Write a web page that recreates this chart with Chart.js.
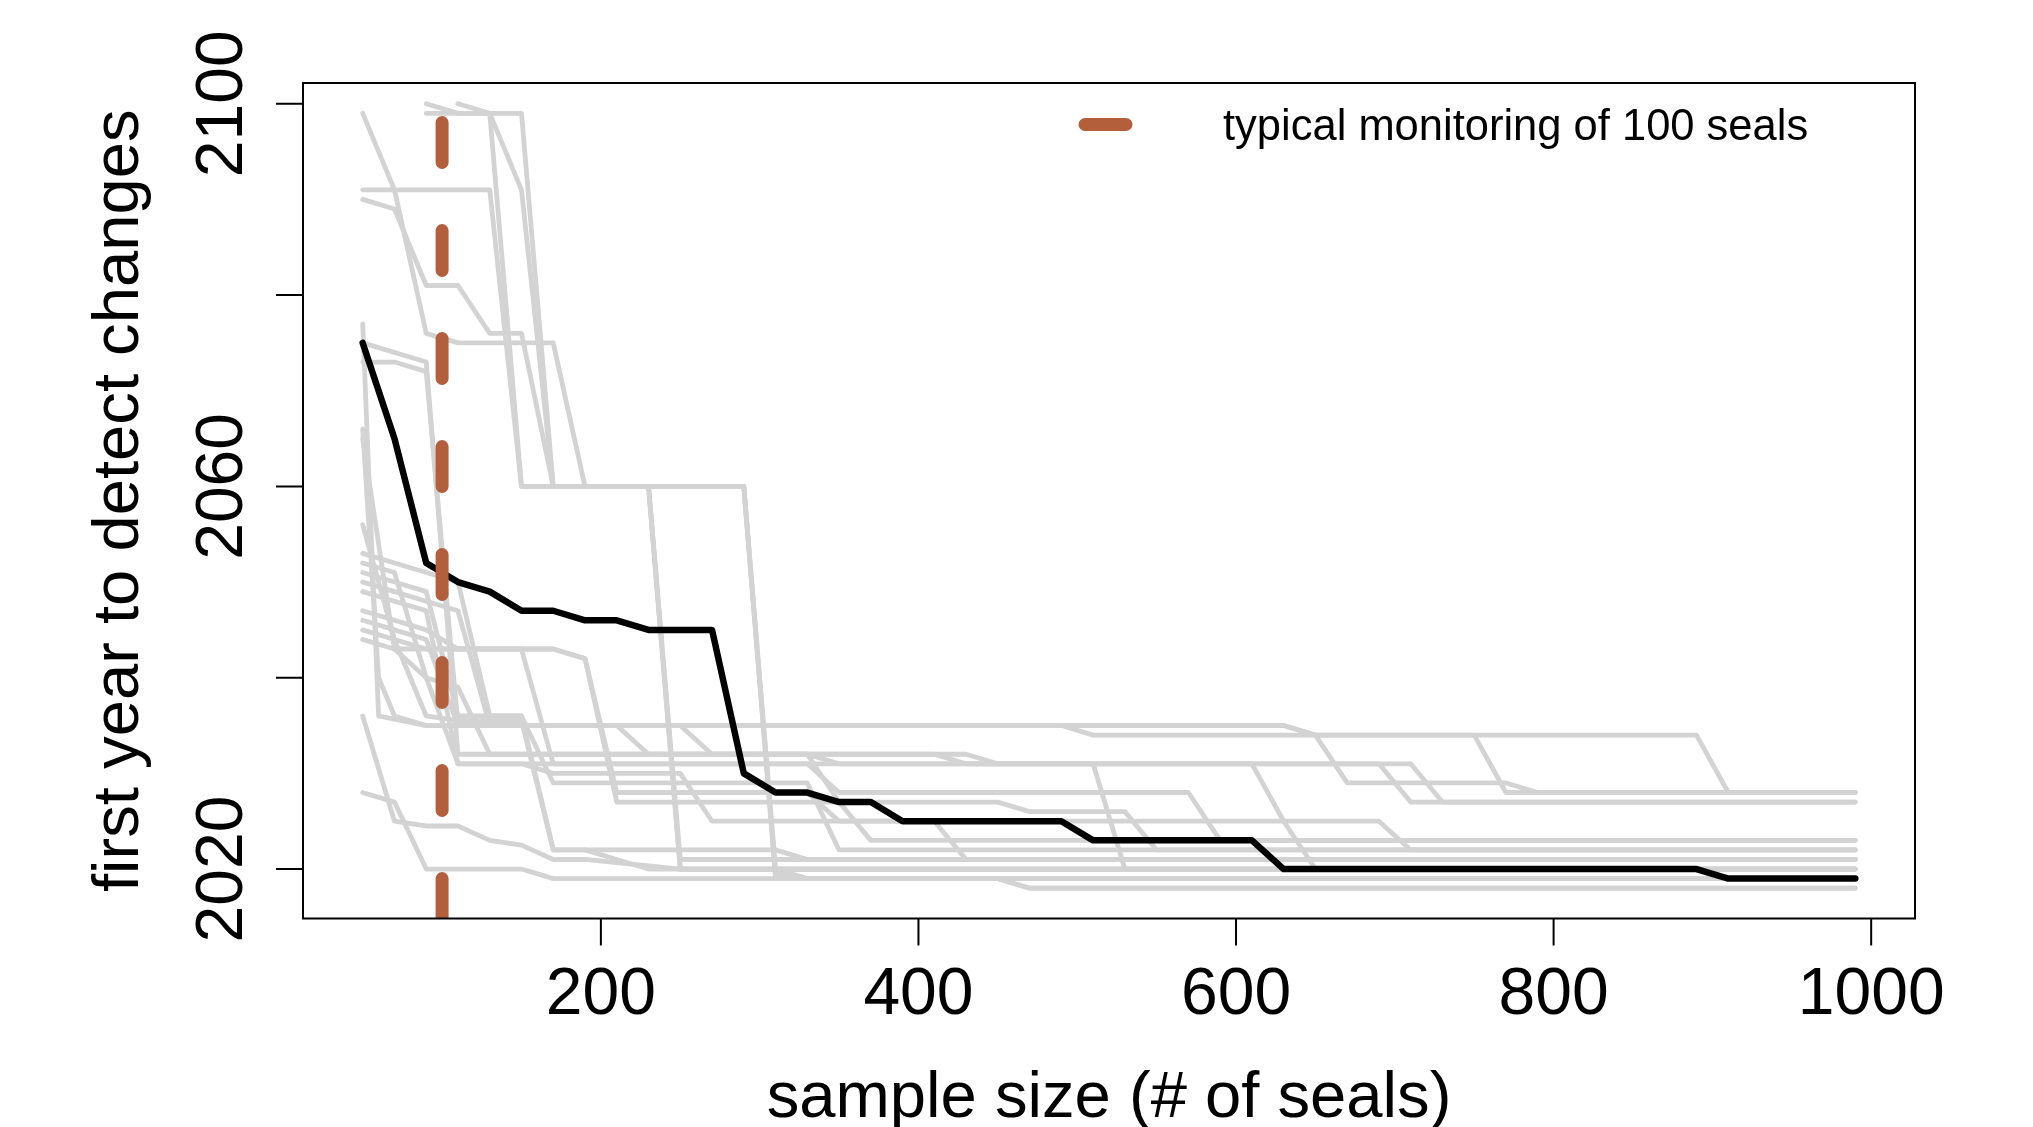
<!DOCTYPE html>
<html>
<head>
<meta charset="utf-8">
<script src="https://cdn.jsdelivr.net/npm/chart.js@4.4.1/dist/chart.umd.min.js"></script>
<style>
  body { margin: 0; background: #ffffff; }
  canvas { display: block; }
</style>
</head>
<body>
<canvas id="grafico" width="2033" height="1127"></canvas>
<script>
// black summary line
const sampleSizes = [50, 70, 90, 110, 130, 150, 170, 190, 210, 230, 250, 270, 290, 310, 330, 350,
  370, 390, 410, 430, 450, 470, 490, 510, 530, 550, 570, 590, 610, 630, 650, 670,
  690, 710, 730, 750, 770, 790, 810, 830, 850, 870, 890, 910, 930, 950, 970, 990]
const firstYear = [2075, 2065, 2052, 2050, 2049, 2047, 2047, 2046, 2046, 2045, 2045, 2045, 2030, 2028, 2028, 2027,
  2027, 2025, 2025, 2025, 2025, 2025, 2025, 2023, 2023, 2023, 2023, 2023, 2023, 2020, 2020, 2020,
  2020, 2020, 2020, 2020, 2020, 2020, 2020, 2020, 2020, 2020, 2020, 2019, 2019, 2019, 2019, 2019]

// grey runs, [sample size, year] at each corner
const run01 = [[50, 2099], [70, 2091], [90, 2076], [110, 2075], [170, 2075], [190, 2060], [290, 2060], [310, 2019], [450, 2019], [470, 2018], [990, 2018]]
const run02 = [[50, 2091], [130, 2091], [150, 2060], [230, 2060], [250, 2020], [990, 2020]]
const run03 = [[50, 2090], [70, 2089], [90, 2081], [110, 2081], [130, 2076], [150, 2076], [170, 2060], [290, 2060], [310, 2020], [990, 2020]]
const run04 = [[90, 2100], [110, 2099], [150, 2099], [170, 2060], [230, 2060], [250, 2020], [990, 2020]]
const run05 = [[90, 2099], [130, 2099], [150, 2091], [170, 2060], [290, 2060], [310, 2019.5], [330, 2019], [990, 2019]]
const run06 = [[110, 2100], [130, 2099], [150, 2060], [230, 2060], [250, 2021], [990, 2021]]
const run07 = [[50, 2077], [60, 2036], [90, 2035], [630, 2035], [650, 2034], [670, 2029], [770, 2029], [790, 2028], [990, 2028]]
const run08 = [[50, 2075], [90, 2073], [110, 2032], [330, 2032], [350, 2031], [710, 2031], [730, 2027], [990, 2027]]
const run09 = [[50, 2073], [70, 2073], [90, 2072], [110, 2035], [490, 2035], [510, 2034], [890, 2034], [910, 2028], [990, 2028]]
const run10 = [[50, 2066], [60, 2040], [70, 2036], [90, 2035], [630, 2035], [650, 2034], [750, 2034], [770, 2028], [990, 2028]]
const run11 = [[50, 2065], [70, 2043], [170, 2043], [190, 2042], [210, 2027], [450, 2027], [470, 2026], [530, 2026], [550, 2022], [990, 2022]]
const run12 = [[50, 2056], [70, 2044], [90, 2043], [150, 2043], [170, 2031], [330, 2031], [350, 2028], [570, 2028], [590, 2023], [990, 2023]]
const run13 = [[50, 2053], [70, 2052], [90, 2051], [110, 2050], [130, 2036], [150, 2036], [170, 2022], [310, 2022], [330, 2021], [990, 2021]]
const run14 = [[50, 2052], [70, 2051], [90, 2040], [110, 2039], [130, 2032], [410, 2032], [430, 2031], [690, 2031], [710, 2027], [990, 2027]]
const run15 = [[50, 2051], [70, 2050], [90, 2049], [110, 2036], [150, 2036], [170, 2029], [330, 2029], [350, 2022], [990, 2022]]
const run16 = [[50, 2050], [70, 2049], [90, 2048], [110, 2047], [130, 2035], [210, 2035], [230, 2032], [330, 2032], [350, 2027], [370, 2023], [990, 2023]]
const run17 = [[50, 2049], [70, 2048], [90, 2047], [110, 2031], [150, 2031], [170, 2030], [250, 2030], [270, 2025], [690, 2025], [710, 2022], [990, 2022]]
const run18 = [[50, 2047], [70, 2046], [90, 2045], [110, 2043], [170, 2043], [190, 2042], [210, 2028], [330, 2028], [350, 2025], [410, 2025], [430, 2021], [990, 2021]]
const run19 = [[50, 2046], [70, 2045], [90, 2044], [110, 2035], [250, 2035], [270, 2032], [430, 2032], [450, 2031], [610, 2031], [630, 2025], [650, 2020], [990, 2020]]
const run20 = [[50, 2045], [70, 2044], [90, 2036], [110, 2035.5], [150, 2035.5], [170, 2022], [190, 2022], [210, 2021], [230, 2020], [990, 2020]]
const run21 = [[50, 2044], [70, 2043], [90, 2040], [110, 2031], [510, 2031], [530, 2020], [990, 2020]]
const run22 = [[50, 2036], [70, 2025], [90, 2024.5], [110, 2024.5], [130, 2023], [150, 2022.5], [170, 2021], [190, 2021], [250, 2020], [310, 2020], [330, 2019], [990, 2019]]
const run23 = [[50, 2028], [70, 2027], [90, 2020], [150, 2020], [170, 2019], [450, 2019], [470, 2018], [990, 2018]]
const runs = [run01, run02, run03, run04, run05, run06, run07, run08, run09, run10, run11, run12,
  run13, run14, run15, run16, run17, run18, run19, run20, run21, run22, run23]

const typicalSize = 100
const xTicks = [200, 400, 600, 800, 1000]
const yTicks = [2020, 2040, 2060, 2080, 2100]
const yLabels = [2020, 2060, 2100]
const xRange = [12.4, 1027.6]
const yRange = [2014.83, 2102.17]

const fonte = '"Liberation Sans", Arial, sans-serif'
const marrom = '#b35f3b'

function montarDatasets() {
    var lista = []

    lista.push({
        label: 'typical monitoring of 100 seals',
        data: [[typicalSize, yRange[0]], [typicalSize, yRange[1]]],
        borderColor: marrom,
        borderWidth: 13,
        borderDash: [40, 68],
        borderCapStyle: 'round',
        clip: 0,
        order: 0
    })

    lista.push({
        label: 'summary',
        data: sampleSizes.map((n, i) => [n, firstYear[i]]),
        borderColor: '#000000',
        borderWidth: 6.5,
        borderCapStyle: 'round',
        borderJoinStyle: 'round',
        order: 1
    })

    for (var i = 0; i < runs.length; i++) {
        lista.push({
            label: 'run ' + (i + 1),
            data: runs[i],
            borderColor: '#d3d3d3',
            borderWidth: 4.8,
            borderCapStyle: 'round',
            borderJoinStyle: 'round',
            order: 2
        })
    }
    return lista
}

// box, ticks, labels and legend drawn R style
const eixosR = {
    id: 'eixosR',
    afterDraw(chart) {
        const ctx = chart.ctx
        const area = chart.chartArea
        const sx = chart.scales.x
        const sy = chart.scales.y

        ctx.save()
        ctx.strokeStyle = '#000000'
        ctx.fillStyle = '#000000'
        ctx.lineWidth = 2
        ctx.strokeRect(area.left, area.top, area.right - area.left, area.bottom - area.top)

        ctx.beginPath()
        xTicks.forEach(t => {
            const px = sx.getPixelForValue(t)
            ctx.moveTo(px, area.bottom)
            ctx.lineTo(px, area.bottom + 27)
        })
        yTicks.forEach(t => {
            const py = sy.getPixelForValue(t)
            ctx.moveTo(area.left, py)
            ctx.lineTo(area.left - 27, py)
        })
        ctx.stroke()

        ctx.font = '66px ' + fonte
        ctx.textAlign = 'center'
        ctx.textBaseline = 'alphabetic'
        xTicks.forEach(t => ctx.fillText(String(t), sx.getPixelForValue(t), area.bottom + 95.5))
        yLabels.forEach(t => {
            ctx.save()
            ctx.translate(area.left - 61, sy.getPixelForValue(t))
            ctx.rotate(-Math.PI / 2)
            ctx.fillText(String(t), 0, 0)
            ctx.restore()
        })

        ctx.font = '65.2px ' + fonte
        ctx.fillText('sample size (# of seals)', (area.left + area.right) / 2, area.bottom + 198)
        ctx.save()
        ctx.translate(area.left - 165, (area.top + area.bottom) / 2)
        ctx.rotate(-Math.PI / 2)
        ctx.fillText('first year to detect changes', 0, 0)
        ctx.restore()

        // legend
        ctx.strokeStyle = marrom
        ctx.lineWidth = 13
        ctx.lineCap = 'round'
        ctx.beginPath()
        ctx.moveTo(1085, 124.5)
        ctx.lineTo(1126, 124.5)
        ctx.stroke()
        ctx.font = '43.5px ' + fonte
        ctx.textAlign = 'left'
        ctx.fillText('typical monitoring of 100 seals', 1223, 140)
        ctx.restore()
    }
}

const grafico = new Chart(document.getElementById('grafico'), {
    type: 'line',
    data: { datasets: montarDatasets() },
    options: {
        responsive: false,
        animation: false,
        devicePixelRatio: 1,
        layout: { padding: { top: 83, right: 118, left: 0, bottom: 0 } },
        elements: { point: { radius: 0 }, line: { tension: 0 } },
        plugins: { legend: { display: false }, tooltip: { enabled: false } },
        scales: {
            x: {
                type: 'linear', min: xRange[0], max: xRange[1],
                ticks: { display: false }, grid: { display: false }, border: { display: false },
                afterFit(s) { s.height = 208.5 }
            },
            y: {
                type: 'linear', min: yRange[0], max: yRange[1],
                ticks: { display: false }, grid: { display: false }, border: { display: false },
                afterFit(s) { s.width = 303 }
            }
        }
    },
    plugins: [eixosR]
})
</script>
</body>
</html>
